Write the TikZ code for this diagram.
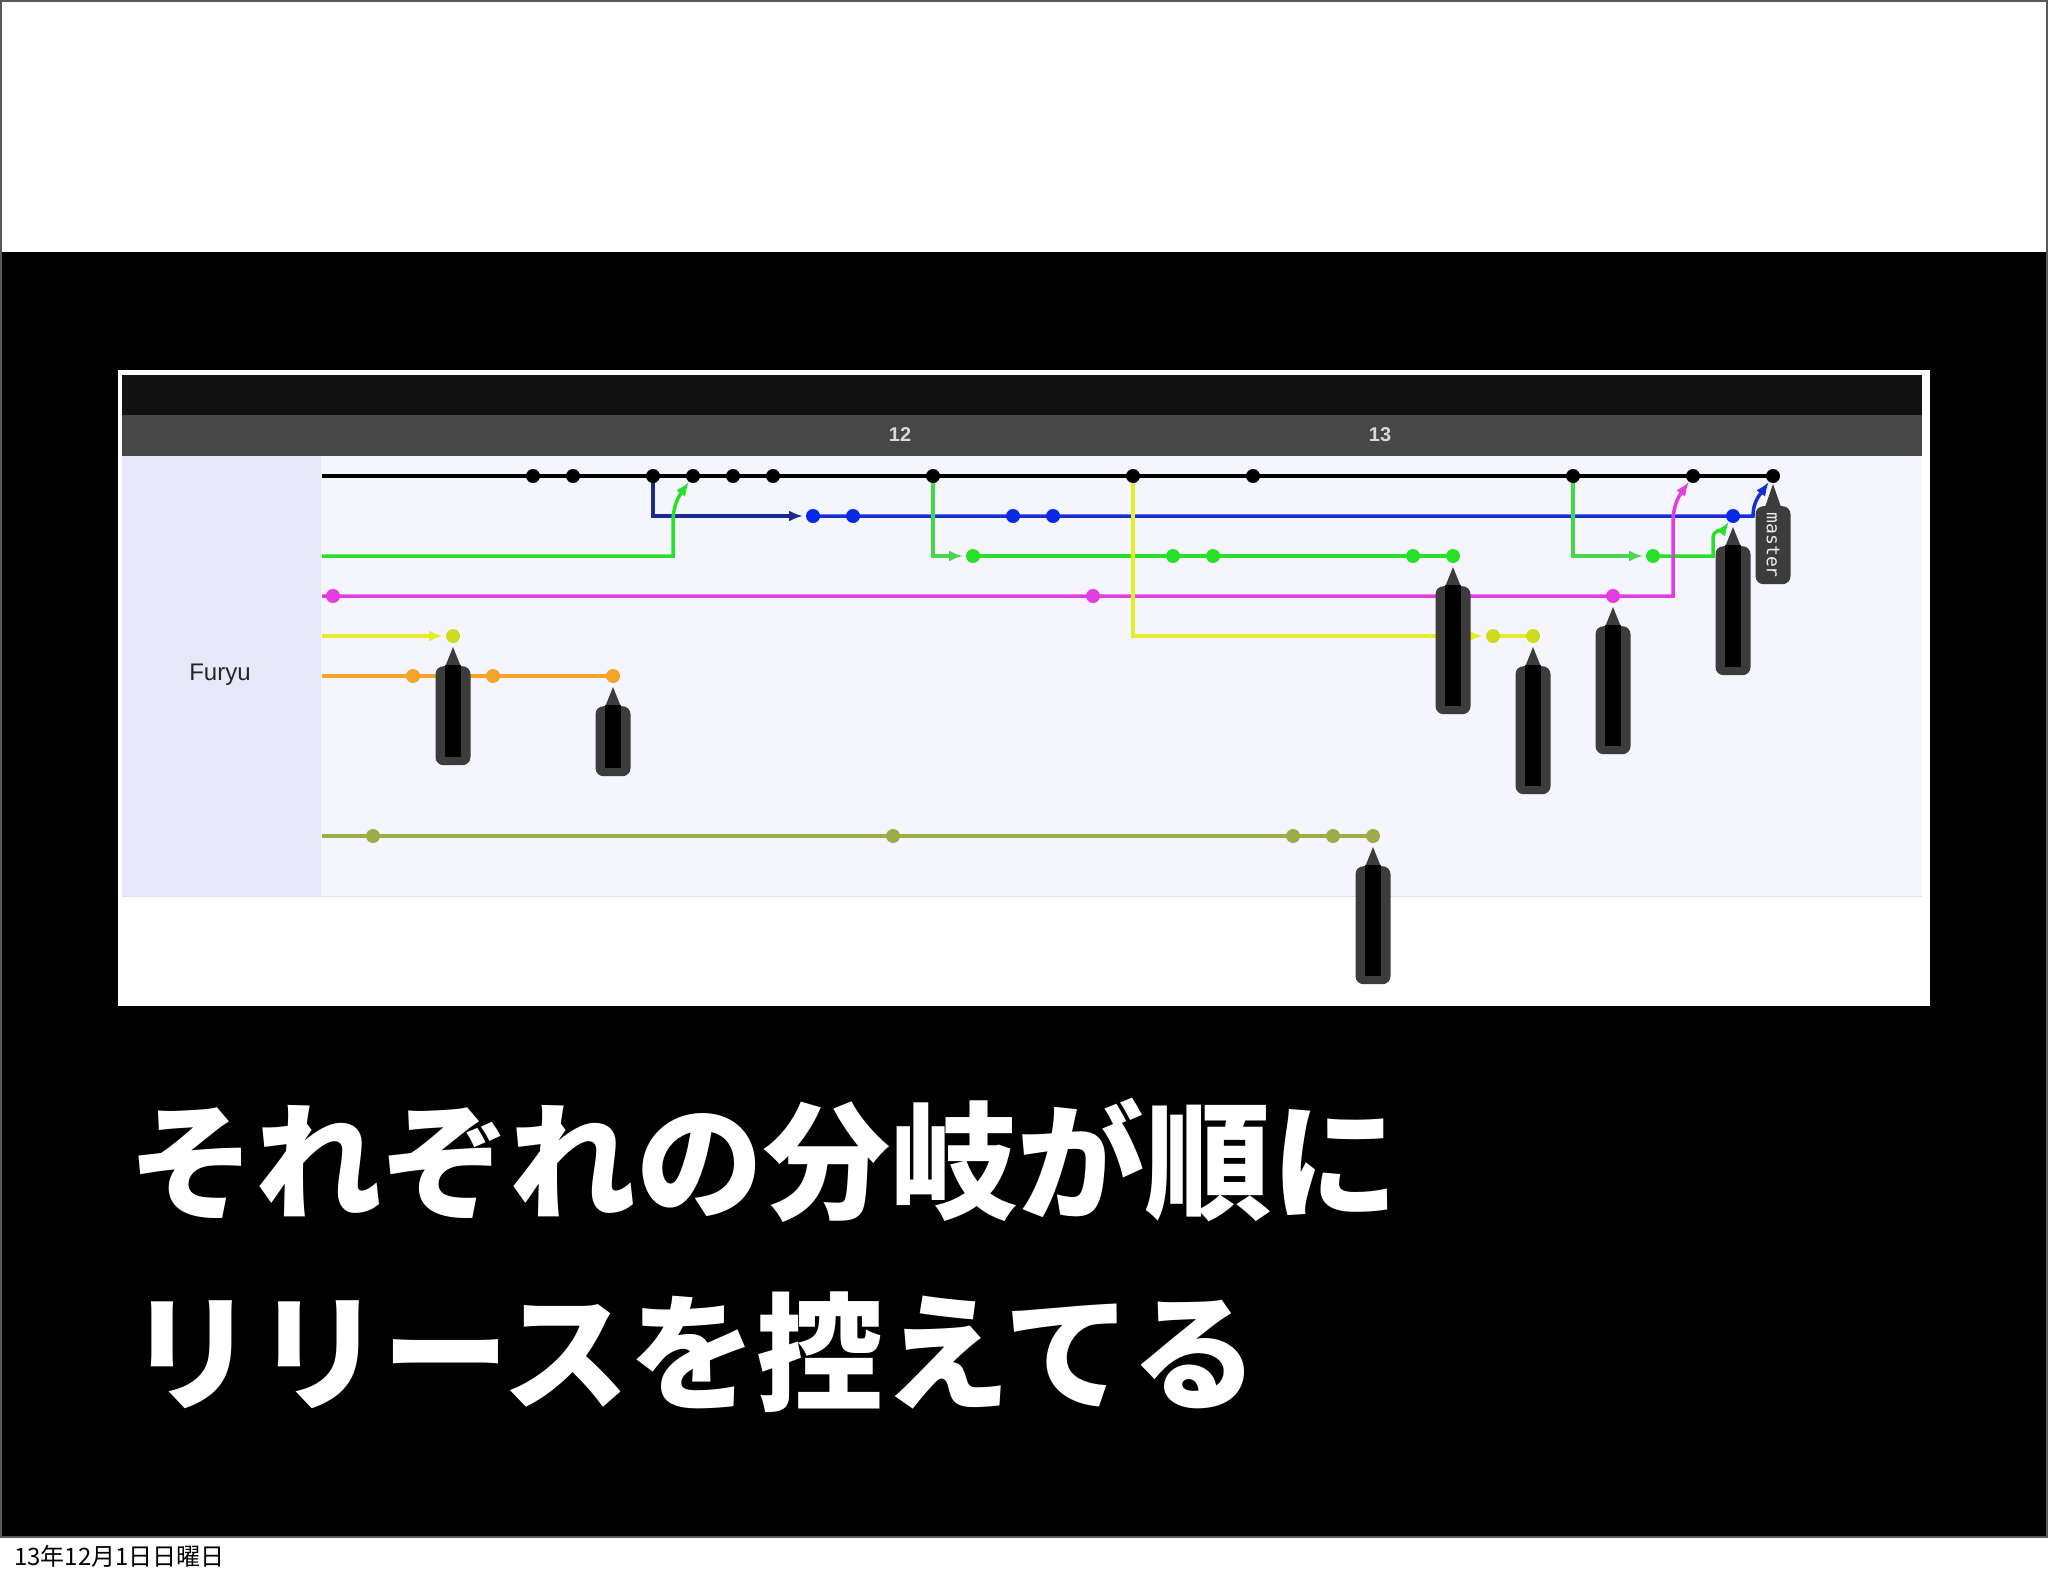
\documentclass[tikz,border=0pt]{standalone}
\usepackage{fontspec}
\setmainfont{Liberation Sans}
\newfontfamily\jp{Noto Sans CJK JP}
\newfontfamily\mono{DejaVu Sans Mono}
\usetikzlibrary{arrows.meta}
\pgfdeclarelayer{bg}
\pgfdeclarelayer{lines}
\pgfsetlayers{bg,lines,main}
\definecolor{tagc}{HTML}{3C3C3C}
\definecolor{navyc}{HTML}{1C2A90}
\definecolor{bluec}{HTML}{1530D8}
\definecolor{bluedot}{HTML}{0A28E8}
\definecolor{greenc}{HTML}{28E028}
\definecolor{greenb}{HTML}{4CD44C}
\definecolor{magc}{HTML}{E03EE0}
\definecolor{yelc}{HTML}{E4EC2C}
\definecolor{yeldot}{HTML}{CCDC1C}
\definecolor{orc}{HTML}{F4A428}
\definecolor{olc}{HTML}{A0AC48}
\definecolor{barblack}{HTML}{121212}
\definecolor{bargray}{HTML}{474747}
\definecolor{lblcol}{HTML}{E7E9F9}
\definecolor{panelc}{HTML}{F5F5FD}
\begin{document}
\begin{tikzpicture}[x=1pt,y=-1pt,
  dot/.style={circle,fill=#1,draw=none,inner sep=0pt,minimum size=14pt},
  ln/.style={line width=3.5pt,draw=#1},
  arr/.style={-{Latex[length=14pt,width=11pt]}},
  tagbox/.style={fill=tagc,draw=none,rounded corners=8pt,minimum width=35pt,minimum height=#1,inner sep=0pt,anchor=north}]
\useasboundingbox (0,0) rectangle (2048,1576);
\begin{pgfonlayer}{bg}
\fill[white] (0,0) rectangle (2048,1576);
\fill[black] (0,252) rectangle (2048,1536);
\draw[gray!70!black,line width=2pt] (1,1537) -- (1,1) -- (2047,1) -- (2047,1537) -- (0,1537);
% screenshot
\fill[white] (118,370) rectangle (1930,1006);
\fill[barblack] (122,375) rectangle (1922,415);
\fill[bargray] (122,415) rectangle (1922,456);
\fill[lblcol] (122,456) rectangle (321,896);
\fill[panelc] (321,456) rectangle (1922,896);
\draw[gray!25,line width=1pt] (122,896) -- (1922,896);
\end{pgfonlayer}
\node[font=\bfseries\fontsize{20}{20}\selectfont,text=gray!30] (w12) at (900,435) {12};
\node[font=\bfseries\fontsize{20}{20}\selectfont,text=gray!30] (w13) at (1380,435) {13};
\node[font=\fontsize{24}{24}\selectfont,text=black!85] (lbl) at (220,675) {Furyu};
% dots
\foreach \c in {13,14,16,17,18,19,23,28,31,39,42,44} \node[dot=black] (k\c) at ({13+40*\c},476) {};
\foreach \c in {20,21,25,26,43} \node[dot=bluedot] (b\c) at ({13+40*\c},516) {};
\foreach \c in {24,29,30,35,36,41} \node[dot=greenc] (g\c) at ({13+40*\c},556) {};
\foreach \c in {8,27,40} \node[dot=magc] (m\c) at ({13+40*\c},596) {};
\foreach \c in {11,37,38} \node[dot=yeldot] (y\c) at ({13+40*\c},636) {};
\foreach \c in {10,12,15} \node[dot=orc] (o\c) at ({13+40*\c},676) {};
\foreach \c in {9,22,32,33,34} \node[dot=olc] (v\c) at ({13+40*\c},836) {};
% free ends
\coordinate (k0) at (322,476);
\coordinate (g0) at (322,556);
\coordinate (m0) at (322,596);
\coordinate (y0) at (322,636);
\coordinate (o0) at (322,676);
\coordinate (v0) at (322,836);
\coordinate (ba) at (803,516);
\coordinate (bm) at (1753,516);
\coordinate (gu) at (673,556);
\coordinate (ga2) at (963,556);
\coordinate (ga3) at (1643,556);
\coordinate (gm) at (1713,556);
\coordinate (mm) at (1673,596);
\coordinate (ya1) at (443,636);
\coordinate (ya2) at (1483,636);
\begin{pgfonlayer}{lines}
\draw[ln=black] (k0) -- (k44.center);
\draw[ln=navyc,arr] (k16.center) |- (ba);
\draw[ln=bluec,arr] (b20.center) -- (bm) to[out=90,in=235] (k44);
\draw[ln=greenc,arr] (g0) -- (gu) -- ++(0,-34) to[out=90,in=235] (k17);
\draw[ln=greenb,arr] (k23.center) |- (ga2);
\draw[ln=greenc] (g24.center) -- (g36.center);
\draw[ln=greenb,arr] (k39.center) |- (ga3);
\draw[ln=greenc,arr] (g41.center) -- (gm) -- ++(0,-18) to[out=90,in=235] (b43);
\draw[ln=magc,arr] (m0) -- (mm) -- ++(0,-74) to[out=90,in=235] (k42);
\draw[ln=yelc,arr] (y0) -- (ya1);
\draw[ln=yelc,arr] (k28.center) |- (ya2);
\draw[ln=yelc] (y37.center) -- (y38.center);
\draw[ln=orc] (o0) -- (o15.center);
\draw[ln=olc] (v0) -- (v34.center);
\end{pgfonlayer}
% tags
\newcommand\tagat[3]{%
  \node[tagbox=#3] (#1) at ([yshift=-30pt]#2.center) {};
  \fill[tagc] ([xshift=-8pt,yshift=-1pt]#1.north) -- ([yshift=-11pt]#2.center) -- ([xshift=8pt,yshift=-1pt]#1.north) -- cycle;
  \fill[black] ([xshift=-8pt,yshift=1pt]#1.north) rectangle ([xshift=8pt,yshift=8pt]#1.south);
}
\tagat{ty11}{y11}{99pt}
\tagat{to15}{o15}{70pt}
\tagat{tg36}{g36}{128pt}
\tagat{ty38}{y38}{128pt}
\tagat{tm40}{m40}{128pt}
\tagat{tb43}{b43}{129pt}
\tagat{tv34}{v34}{118pt}
\node[tagbox=78pt] (tk44) at ([yshift=-30pt]k44.center) {};
\fill[tagc] ([xshift=-8pt,yshift=-1pt]tk44.north) -- ([yshift=-8pt]k44.center) -- ([xshift=8pt,yshift=-1pt]tk44.north) -- cycle;
\node[rotate=-90,text=gray!15,font=\mono\fontsize{18}{18}\selectfont,inner sep=0pt] (mst) at (tk44.center) {master};
% title
\node[anchor=west,inner sep=0pt,text=white,font=\jp\bfseries\fontsize{127}{127}\selectfont] (t1) at (128,1160) {それぞれの分岐が順に};
\node[anchor=west,inner sep=0pt,text=white,font=\jp\bfseries\fontsize{127}{127}\selectfont] (t2) at (128,1352) {リリースを控えてる};
\node[anchor=west,inner sep=0pt,text=black,font=\jp\fontsize{24}{24}\selectfont] (date) at (14,1556) {13年12月1日日曜日};
\end{tikzpicture}
\end{document}
